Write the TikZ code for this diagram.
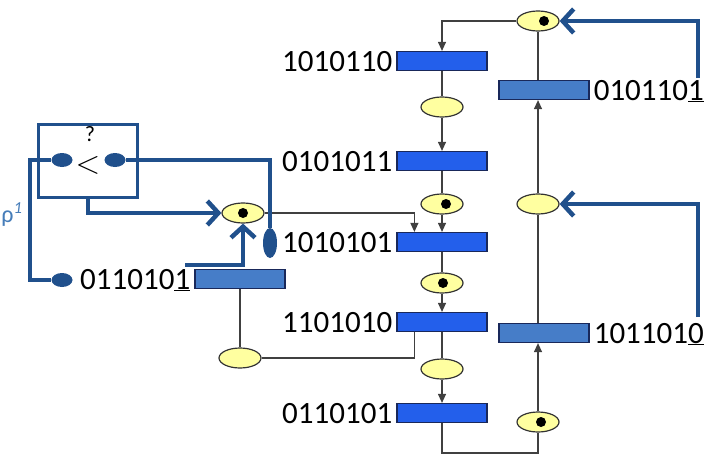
\documentclass[tikz,border=0pt]{standalone}
\usepackage{fontspec}
\setmainfont{Carlito}
\usetikzlibrary{arrows.meta,positioning,shapes.geometric}

\definecolor{barblue}{RGB}{35,95,235}
\definecolor{steelbar}{RGB}{70,125,200}
\definecolor{navy}{RGB}{25,40,90}
\definecolor{linkblue}{RGB}{32,80,140}
\definecolor{placefill}{RGB}{255,255,160}
\definecolor{rhoblue}{RGB}{70,125,185}

\tikzset{
 tbar/.style={draw=navy,line width=1.2pt,fill=barblue,minimum width=90pt,minimum height=19pt,inner sep=0pt},
 sbar/.style={tbar,fill=steelbar},
 place/.style={ellipse,draw=black!80,line width=1.2pt,fill=placefill,minimum width=42pt,minimum height=20pt,inner sep=0pt},
 bits/.style={inner sep=1pt,text depth=0pt,font=\fontsize{31}{36}\selectfont},
 arc/.style={draw=black!75,line width=1.2pt},
 arr/.style={arc,-{Triangle[length=9pt,width=8pt]}},
 link/.style={draw=linkblue,line width=4.5pt},
 linkarr/.style={link,-{Straight Barb[length=11pt,width=24pt]}},
 knob/.style={ellipse,fill=linkblue,minimum width=21pt,minimum height=14pt,inner sep=0pt},
}

\begin{document}
\begin{tikzpicture}[x=1pt,y=-1pt]
\useasboundingbox (0,0) rectangle (711,460);
% left column
\foreach \n/\y/\lab in {t1/61/1010110,t2/161/0101011,t3/242/1010101,t4/322/1101010,t5/413/0110101}{
 \node[tbar] (\n) at (442,\y) {};
 \node[bits,left=3pt of \n] (l\n) {\lab};}
\foreach \n/\y in {p1/107,p2/204,p3/283,p4/369}
 \node[place] (\n) at (442,\y) {};
% right column
\node[sbar] (t6) at (544,333) {};
\node[sbar] (t7) at (544,90) {};
\node[bits,right=3pt of t6] (lt6) {101101\underline{0}};
\node[bits,right=3pt of t7] (lt7) {010110\underline{1}};
\foreach \n/\y in {p5/422,p6/204,p7/21}
 \node[place] (\n) at (538,\y) {};
% left part
\node[place] (p8) at (243,213) {};
\node[sbar] (t8) at (240,279) {};
\node[place] (p9) at (240,358) {};
\node[bits,left=3pt of t8] (lt8) {011010\underline{1}};
\foreach \n/\dx in {p2/4,p3/1,p5/3,p7/6,p8/0}
 \fill ([xshift=\dx pt]\n.center) circle (5);
% comparator
\node[draw=linkblue,line width=2.5pt,minimum width=99pt,minimum height=73pt,inner sep=0pt] (cmp) at (88,161) {};
\node[knob] (k1) at (62,160) {};
\node[knob] (k2) at (115,160) {};
\node[font=\fontsize{24}{24}\selectfont,scale=1.3,inner sep=0pt] (lt) at (88,165) {$<$};
\node[font=\fontsize{22}{22}\selectfont,inner sep=0pt] (q) at (90,134) {?};
\node[knob] (k3) at (62,280) {};
\node[knob,minimum width=14pt,minimum height=30pt] (k4) at (270,243) {};
\node[text=rhoblue,font=\fontsize{24}{24}\selectfont] (rho) at (12,215) {ρ\textsuperscript{\itshape 1}};

\coordinate (bend) at (30,160);
\coordinate (bit8) at (185,265);
\coordinate (bit7) at (698,78);
\coordinate (bit6) at (698,317);
\coordinate (bot) at (490,453);

% arcs
\draw[arc] (t1)--(p1) (t2)--(p2) (t3)--(p3) (t4)--(p4);
\foreach \a/\b in {p1/t2,p2/t3,p3/t4,p4/t5}
 \draw[arr] (\a)--(\b);
\draw[arc] (t5) |- (bot) -| (p5);
\draw[arr] (p5) -- (p5 |- t6.south);
\draw[arc] (p6 |- t6.north) -- (p6);
\draw[arr] (p6) -- (p6 |- t7.south);
\draw[arc] (p7 |- t7.north) -- (p7);
\draw[arr] (p7) -| (t1);
\draw[arr] (p8) -| ([xshift=18pt]t3.north west);
\draw[arc] (t8) -- (p9);
\draw[arc] (p9) -| ([xshift=18pt]t4.south west);

% thick links
\draw[link] (k1) -- (bend) |- (k3);
\draw[link] (k2) -| (k4);
\draw[linkarr] (cmp.south) |- (p8);
\draw[linkarr] (bit8) -| (p8);
\draw[linkarr] (bit7) |- (p7);
\draw[linkarr] (bit6) |- (p6);
\end{tikzpicture}
\end{document}
